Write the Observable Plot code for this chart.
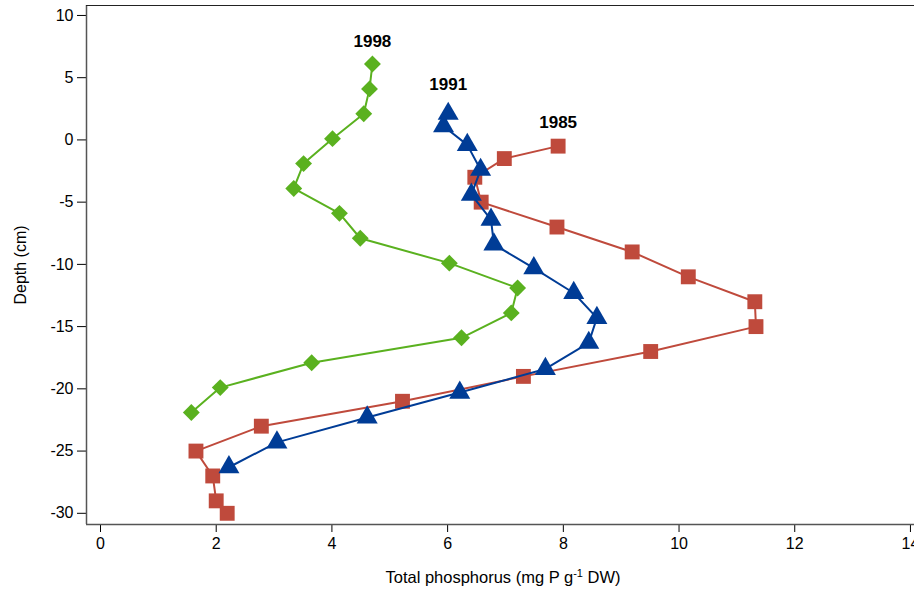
<!DOCTYPE html>
<html><head><meta charset="utf-8">
<script src="https://cdn.jsdelivr.net/npm/d3@7"></script>
<script src="https://cdn.jsdelivr.net/npm/@observablehq/plot@0.6"></script>
<style>body{margin:0;background:#fff} svg{display:block}</style>
</head><body><div id="chart"></div>
<script>
// Total phosphorus (mg P g-1 DW) by depth (cm) for three sampling years
const depth1985 = [-0.5, -1.5, -3, -5, -7, -9, -11, -13, -15, -17, -19, -21, -23, -25, -27, -29, -30];
const tp1985    = [7.91, 6.98, 6.47, 6.58, 7.89, 9.19, 10.16, 11.31, 11.33, 9.51, 7.31, 5.22, 2.78, 1.65, 1.94, 2.00, 2.19];
const depth1991 = [2.1, 1.1, -0.4, -2.4, -4.4, -6.4, -8.4, -10.3, -12.3, -14.3, -16.3, -18.4, -20.3, -22.3, -24.3, -26.3];
const tp1991    = [6.01, 5.93, 6.34, 6.57, 6.41, 6.75, 6.80, 7.49, 8.18, 8.58, 8.44, 7.69, 6.21, 4.61, 3.05, 2.22];
const depth1998 = [6.1, 4.1, 2.1, 0.1, -1.9, -3.9, -5.9, -7.9, -9.9, -11.9, -13.9, -15.9, -17.9, -19.9, -21.9];
const tp1998    = [4.70, 4.65, 4.55, 4.01, 3.51, 3.34, 4.13, 4.49, 6.03, 7.21, 7.10, 6.24, 3.65, 2.07, 1.57];
const years = ["1985", "1991", "1998"];
const xTicks = [0, 2, 4, 6, 8, 10, 12, 14];
const yTicks = [-30, -25, -20, -15, -10, -5, 0, 5, 10];

const series = [
  {year: years[0], depth: depth1985, tp: tp1985, color: "#bf4a3c", symbol: d3.symbolSquare, r: 8.4, dy: -24},
  {year: years[1], depth: depth1991, tp: tp1991, color: "#003c96", symbol: d3.symbolTriangle, r: 7.8, dy: -29},
  {year: years[2], depth: depth1998, tp: tp1998, color: "#5ab11f", symbol: d3.symbolDiamond2, r: 7.6, dy: -22}
];
const tables = series.map(s => s.depth.map((d, i) => ({year: s.year, depth: d, tp: s.tp[i]})));

const xDomain = [-0.242, 14.07];
const yDomain = [-30.9, 10.8];

const marks = [];
series.forEach((s, k) => {
  marks.push(Plot.line(tables[k], {x: "tp", y: "depth", stroke: s.color, strokeWidth: 2}));
  marks.push(Plot.dot(tables[k], {x: "tp", y: "depth", symbol: () => s.symbol, r: s.r, fill: s.color, stroke: "none"}));
});
series.forEach((s, k) => {
  marks.push(Plot.text([tables[k][0]], {x: "tp", y: "depth", text: "year", dy: s.dy, fontWeight: "bold", fontSize: 17, fill: "#000"}));
});

const plot = Plot.plot({
  width: 914,
  height: 590,
  marginLeft: 86,
  marginTop: 5,
  marginBottom: 66,
  marginRight: 0,
  style: {fontFamily: "'Liberation Sans', Arial, sans-serif", fontSize: "16px", color: "#000", background: "#fff"},
  x: {domain: xDomain, ticks: xTicks, label: null},
  y: {domain: yDomain, ticks: yTicks, label: null},
  marks: [
    Plot.axisX({ticks: xTicks, tickSize: 8, tickPadding: 5, tickFormat: d => String(d), label: null, fontSize: 16}),
    Plot.axisY({ticks: yTicks, tickSize: 9, tickPadding: 4, tickFormat: d => String(d), label: null, fontSize: 16}),
    Plot.ruleY([yDomain[0]], {stroke: "#555", strokeWidth: 1.5}),
    Plot.ruleX([xDomain[0]], {stroke: "#555", strokeWidth: 1.5}),
    Plot.ruleY([yDomain[1]], {stroke: "#222", strokeWidth: 1}),
    ...marks
  ]
});

const svg = d3.select(plot);
const xl = svg.append("text")
  .attr("x", 503).attr("y", 583)
  .attr("text-anchor", "middle")
  .attr("font-size", 16.5)
  .attr("fill", "#000");
xl.append("tspan").text("Total phosphorus (mg P g");
xl.append("tspan").attr("baseline-shift", "super").attr("font-size", 11).text("-1");
xl.append("tspan").text(" DW)");

svg.append("text")
  .attr("transform", "translate(26,265) rotate(-90)")
  .attr("text-anchor", "middle")
  .attr("font-size", 16)
  .attr("fill", "#000")
  .text("Depth (cm)");

document.getElementById("chart").appendChild(plot);
</script>
</body></html>
